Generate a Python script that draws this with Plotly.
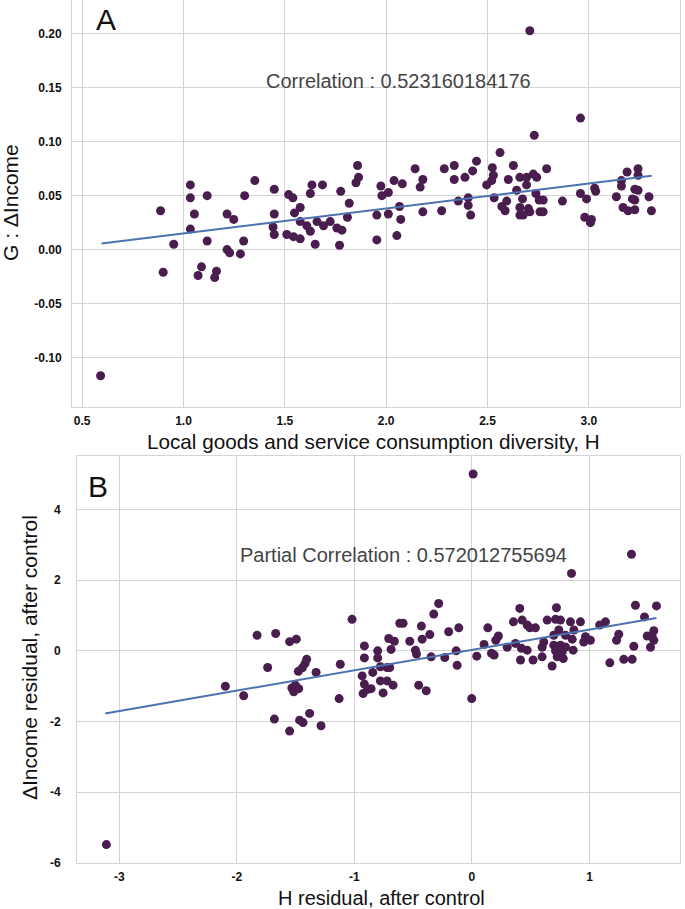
import plotly.graph_objects as go

# ---------------- Panel A data ----------------
a_h = [0.591, 0.887, 0.90, 0.952, 1.034, 1.034, 1.054, 1.034, 1.117, 1.117, 1.089, 1.072, 1.163, 1.154,
       1.215, 1.248, 1.215, 1.228, 1.281, 1.297, 1.302, 1.352, 1.448, 1.448, 1.442, 1.448, 1.519, 1.54,
       1.51, 1.543, 1.576, 1.548, 1.576, 1.576, 1.626, 1.634, 1.686, 1.609, 1.626, 1.650, 1.659, 1.691,
       1.724, 1.757, 1.770, 1.776, 1.859, 1.864, 1.851, 1.818, 1.809, 1.782, 1.954, 1.954, 1.974, 1.979,
       2.011, 2.011, 2.039, 2.080, 2.066, 2.072, 2.053, 2.143, 2.181, 2.168, 2.181, 2.274, 2.287, 2.336,
       2.336, 2.389, 2.427, 2.446, 2.356, 2.405, 2.405, 2.417, 2.524, 2.529, 2.521, 2.496, 2.533, 2.562,
       2.571, 2.595, 2.587, 2.603, 2.628, 2.644, 2.660, 2.660, 2.660, 2.673, 2.693, 2.693, 2.702, 2.709,
       2.726, 2.731, 2.743, 2.739, 2.755, 2.775, 2.759, 2.709, 2.676, 2.792, 2.775, 2.870, 2.959, 2.959,
       2.989, 2.980, 3.013, 3.008, 3.029, 3.034, 3.136, 3.161, 3.161, 3.189, 3.243, 3.243, 3.227, 3.243,
       3.215, 3.227, 3.169, 3.194, 3.227, 3.297, 3.309]
a_g = [-0.117, 0.036, -0.021, 0.005, 0.060, 0.048, 0.033, 0.019, 0.050, 0.008, -0.016, -0.024, -0.020, -0.026,
       0.033, 0.028, 0.000, -0.003, -0.004, 0.008, 0.050, 0.064, 0.056, 0.033, 0.021, 0.014, 0.051, 0.048,
       0.014, 0.012, 0.010, 0.034, 0.039, 0.026, 0.052, 0.060, 0.060, 0.022, 0.017, 0.005, 0.026, 0.022,
       0.026, 0.020, 0.004, 0.054, 0.078, 0.067, 0.062, 0.043, 0.030, 0.018, 0.032, 0.009, 0.059, 0.050,
       0.053, 0.033, 0.064, 0.061, 0.040, 0.028, 0.013, 0.075, 0.065, 0.058, 0.035, 0.036, 0.075, 0.078,
       0.065, 0.067, 0.073, 0.082, 0.045, 0.048, 0.041, 0.032, 0.076, 0.069, 0.064, 0.060, 0.048, 0.090,
       0.040, 0.045, 0.036, 0.065, 0.078, 0.055, 0.067, 0.039, 0.032, 0.047, 0.067, 0.060, 0.038, 0.203,
       0.070, 0.106, 0.067, 0.052, 0.046, 0.046, 0.035, 0.035, 0.032, 0.075, 0.035, 0.045, 0.122, 0.052,
       0.047, 0.030, 0.028, 0.025, 0.057, 0.054, 0.049, 0.064, 0.059, 0.072, 0.075, 0.069, 0.056, 0.055,
       0.047, 0.046, 0.039, 0.036, 0.037, 0.049, 0.036]
a_fit_x = [0.596, 3.31]
a_fit_y = [0.0056, 0.0685]
a_xticks = [0.5, 1.0, 1.5, 2.0, 2.5, 3.0]
a_xticktext = ["0.5", "1.0", "1.5", "2.0", "2.5", "3.0"]
a_yticks = [-0.10, -0.05, 0.00, 0.05, 0.10, 0.15, 0.20]
a_yticktext = ["-0.10", "-0.05", "0.00", "0.05", "0.10", "0.15", "0.20"]

# ---------------- Panel B data ----------------
b_h = [-3.11, -2.098, -1.942, -1.828, -1.670, -1.551, -1.494, -1.738, -1.681, -1.551, -1.466, -1.437, -1.381,
       -1.284, -1.532, -1.516, -1.474, -1.502, -1.477, -1.443, -1.420, -1.406, -1.326, -1.13, -1.12, -1.020,
       -0.283, -0.325, -0.614, -0.586, -0.430, -0.198, -0.112, -0.708, -0.660, -0.688, -0.529, -0.424, -0.359,
       -0.915, -0.915, -0.802, -0.802, -0.481, -0.472, -0.347, -0.231, -0.134, -0.126, -0.779, -0.722, -0.700,
       -0.844, -0.934, -0.915, -0.887, -0.926, -0.858, -0.779, -0.722, -0.671, -0.756, -0.453, -0.389, -0.002,
       0.010, 0.041, 0.103, 0.135, 0.203, 0.225, 0.166, 0.189, 0.300, 0.370, 0.407, 0.353, 0.427, 0.470,
       0.493, 0.540, 0.421, 0.470, 0.413, 0.520, 0.597, 0.597, 0.611, 0.640, 0.719, 0.711, 0.753, 0.739,
       0.696, 0.796, 0.838, 0.847, 0.923, 0.867, 0.853, 0.696, 0.753, 0.796, 0.711, 0.768, 0.861, 0.725,
       0.682, 0.777, 0.951, 0.966, 1.008, 1.087, 1.136, 1.173, 1.230, 1.249, 1.292, 1.363, 1.377, 1.357,
       1.391, 1.468, 1.570, 1.491, 1.547, 1.547, 1.519, 1.533]
b_inc = [-5.48, -1.00, -1.27, 0.44, 0.49, 0.26, 0.33, -0.47, -1.93, -2.27, -1.96, -2.03, -1.77,
         -2.12, -1.05, -1.16, -1.07, -0.97, -0.58, -0.48, -0.36, -0.24, -0.61, -1.35, -0.38, 0.89,
         1.34, 1.04, 0.78, 0.78, 0.70, 0.54, 0.65, 0.35, 0.27, 0.04, 0.27, 0.33, 0.46,
         0.14, -0.20, 0.00, -0.20, 0.02, -0.09, -0.17, -0.19, 0.00, -0.41, -0.45, -0.47, -0.47,
         -0.61, -0.71, -0.94, -1.09, -1.21, -1.07, -0.85, -0.85, -0.97, -1.19, -0.97, -1.13, -1.35,
         5.0, -0.15, 0.18, 0.65, 0.30, 0.42, -0.07, -0.12, 0.10, 0.21, 1.20, 0.82, 0.87, 0.73,
         0.65, 0.65, 0.07, 0.02, -0.26, -0.26, -0.17, 0.10, 0.25, 0.87, 1.22, 0.89, 0.87, 0.59,
         0.44, 0.44, 0.82, 2.19, 0.82, 0.59, 0.33, 0.16, 0.16, 0.11, 0.00, -0.03, 0.02, -0.17,
         -0.43, -0.22, 0.25, 0.40, 0.30, 0.73, 0.82, -0.34, 0.30, 0.47, -0.24, -0.24, 0.13, 2.73,
         1.29, 0.96, 1.27, 0.42, 0.57, 0.30, 0.10, 0.42]
b_fit_x = [-3.12, 1.57]
b_fit_y = [-1.77, 0.93]
b_xticks = [-3, -2, -1, 0, 1]
b_xticktext = ["-3", "-2", "-1", "0", "1"]
b_yticks = [-6, -4, -2, 0, 2, 4]
b_yticktext = ["-6", "-4", "-2", "0", "2", "4"]

W, H = 685, 909
FONT = "Arial, Liberation Sans, sans-serif"
DOT = "#4a1d4f"
LINE = "#4c72b0"
GRID = "#d4d4d4"
TXT = "#111111"

fig = go.Figure()
fig.add_trace(go.Scatter(x=a_h, y=a_g, mode="markers", xaxis="x", yaxis="y",
                         marker=dict(color=DOT, size=9, line=dict(width=0)), showlegend=False))
fig.add_trace(go.Scatter(x=a_fit_x, y=a_fit_y, mode="lines", xaxis="x", yaxis="y",
                         line=dict(color=LINE, width=2), showlegend=False))
fig.add_trace(go.Scatter(x=b_h, y=b_inc, mode="markers", xaxis="x2", yaxis="y2",
                         marker=dict(color=DOT, size=9, line=dict(width=0)), showlegend=False))
fig.add_trace(go.Scatter(x=b_fit_x, y=b_fit_y, mode="lines", xaxis="x2", yaxis="y2",
                         line=dict(color=LINE, width=2), showlegend=False))

axis_common = dict(showgrid=True, gridcolor=GRID, gridwidth=1, zeroline=False,
                   showline=True, linecolor=GRID, linewidth=1, mirror=True, ticks="",
                   automargin=False,
                   tickfont=dict(family=FONT, size=12, color=TXT, weight="bold"))

fig.update_layout(
    width=W, height=H,
    margin=dict(l=0, r=0, t=0, b=0),
    paper_bgcolor="white", plot_bgcolor="white",
    xaxis=dict(domain=[72 / W, 680 / W], range=[0.45, 3.45], anchor="y",
               tickvals=a_xticks, ticktext=a_xticktext, ticklabelstandoff=3, **axis_common),
    yaxis=dict(domain=[1 - 407 / H, 1.0], range=[-0.146, 0.2315], anchor="x",
               tickvals=a_yticks, ticktext=a_yticktext, ticklabelstandoff=7, **axis_common),
    xaxis2=dict(domain=[77 / W, 680 / W], range=[-3.36, 1.77], anchor="y2",
                tickvals=b_xticks, ticktext=b_xticktext, ticklabelstandoff=3, **axis_common),
    yaxis2=dict(domain=[1 - 863 / H, 1 - 456 / H], range=[-6, 5.51], anchor="x2",
                tickvals=b_yticks, ticktext=b_yticktext, ticklabelstandoff=13, **axis_common),
    annotations=[
        # axis titles
        dict(text="Local goods and service consumption diversity, H", x=374 / W, y=1 - 441 / H,
             xref="paper", yref="paper", showarrow=False, xanchor="center", yanchor="middle",
             font=dict(family=FONT, size=20.7, color=TXT)),
        dict(text="G : ΔIncome", x=11 / W, y=1 - 203 / H, textangle=-90,
             xref="paper", yref="paper", showarrow=False, xanchor="center", yanchor="middle",
             font=dict(family=FONT, size=21, color=TXT)),
        dict(text="H residual, after control", x=381 / W, y=1 - 898 / H,
             xref="paper", yref="paper", showarrow=False, xanchor="center", yanchor="middle",
             font=dict(family=FONT, size=20, color=TXT)),
        dict(text="ΔIncome residual, after control", x=29 / W, y=1 - 658 / H, textangle=-90,
             xref="paper", yref="paper", showarrow=False, xanchor="center", yanchor="middle",
             font=dict(family=FONT, size=21, color=TXT)),
        # panel letters
        dict(text="A", x=106 / W, y=1 - 20 / H, xref="paper", yref="paper",
             xanchor="center", yanchor="middle", showarrow=False,
             font=dict(family=FONT, size=30, color=TXT)),
        dict(text="B", x=98 / W, y=1 - 486 / H, xref="paper", yref="paper",
             xanchor="center", yanchor="middle", showarrow=False,
             font=dict(family=FONT, size=30, color=TXT)),
        # correlation labels
        dict(text="Correlation : 0.523160184176", x=2.059, y=0.1568, xref="x", yref="y",
             showarrow=False, font=dict(family=FONT, size=20, color="#444")),
        dict(text="Partial Correlation : 0.572012755694", x=-0.583, y=2.71, xref="x2", yref="y2",
             showarrow=False, font=dict(family=FONT, size=20, color="#444")),
    ],
)

# remove the browser's default 8px body margin so the figure sits at the page origin
fig.write_html("out.html", config={"displayModeBar": False},
               post_script="document.body.style.margin='0';document.body.style.overflow='hidden';")
